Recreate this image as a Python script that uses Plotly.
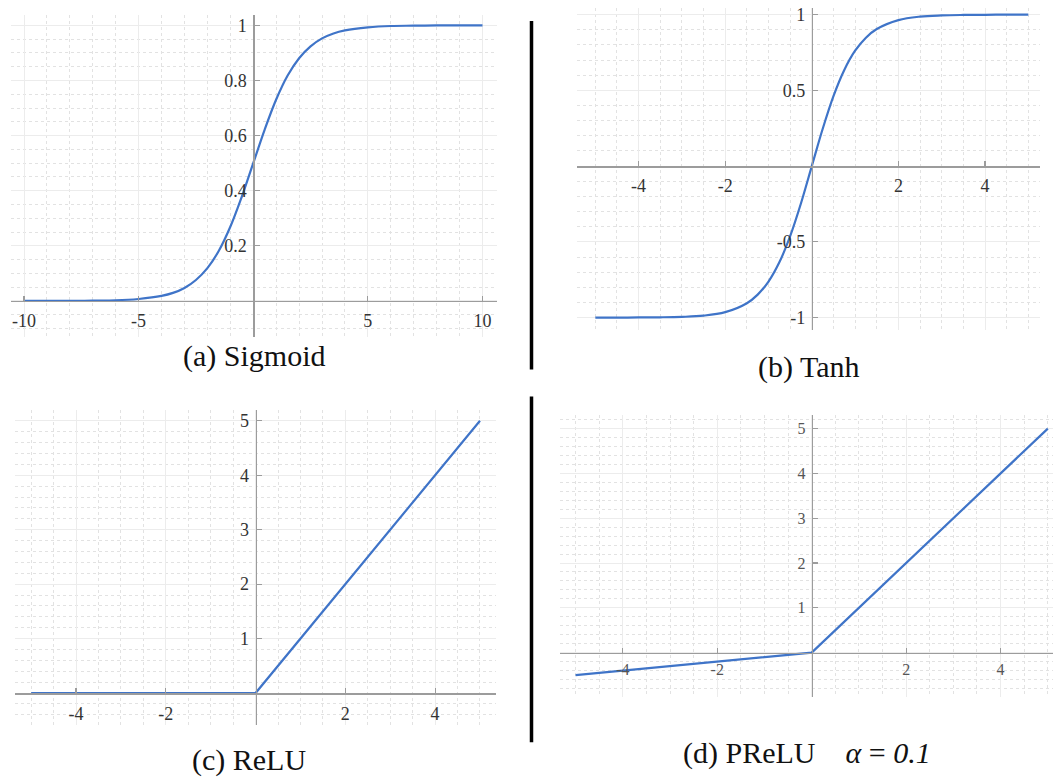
import plotly.graph_objects as go

# ---------------- data ----------------
sig_x = [-10, -9, -8, -7, -6, -5, -4, -3.5, -3, -2.5, -2, -1.5, -1, -0.5, 0,
         0.5, 1, 1.5, 2, 2.5, 3, 3.5, 4, 5, 6, 7, 8, 9, 10]
sig_y = [0.000, 0.000, 0.000, 0.001, 0.002, 0.007, 0.018, 0.029, 0.047, 0.076, 0.119, 0.182, 0.269, 0.378, 0.500,
         0.622, 0.731, 0.818, 0.881, 0.924, 0.953, 0.971, 0.982, 0.993, 0.998, 0.999, 1.000, 1.000, 1.000]

tanh_x = [-5, -4.5, -4, -3.5, -3, -2.5, -2, -1.5, -1.25, -1, -0.75, -0.5, -0.25, 0,
          0.25, 0.5, 0.75, 1, 1.25, 1.5, 2, 2.5, 3, 3.5, 4, 4.5, 5]
tanh_y = [-1.000, -1.000, -0.999, -0.998, -0.995, -0.987, -0.964, -0.905, -0.848, -0.762, -0.635, -0.462, -0.245, 0.000,
          0.245, 0.462, 0.635, 0.762, 0.848, 0.905, 0.964, 0.987, 0.995, 0.998, 0.999, 1.000, 1.000]

relu_x = [-5, 0, 5]
relu_y = [0, 0, 5]

prelu_x = [-5, 0, 5]
prelu_y = [-0.5, 0, 5]

captions = ["(a) Sigmoid", "(b) Tanh", "(c) ReLU",
            "(d) PReLU\u00a0\u00a0\u00a0\u00a0<i>\u03b1</i> = <i>0.1</i>"]

a_xticks = [-10, -5, 5, 10]
a_xlabels = ["-10", "-5", "5", "10"]
a_yticks = [0.2, 0.4, 0.6, 0.8, 1]
a_ylabels = ["0.2", "0.4", "0.6", "0.8", "1"]

b_xticks = [-4, -2, 2, 4]
b_xlabels = ["-4", "-2", "2", "4"]
b_yticks = [-1, -0.5, 0.5, 1]
b_ylabels = ["-1", "-0.5", "0.5", "1"]

c_xticks = [-4, -2, 2, 4]
c_xlabels = ["-4", "-2", "2", "4"]
c_yticks = [1, 2, 3, 4, 5]
c_ylabels = ["1", "2", "3", "4", "5"]

d_xticks = [-4, -2, 2, 4]
d_xlabels = ["-4", "-2", "2", "4"]
d_yticks = [1, 2, 3, 4, 5]
d_ylabels = ["1", "2", "3", "4", "5"]

# ---------------- layout / style ----------------
W, H = 1053, 778
LINE = "#3f74c8"
AXIS = "#9c9c9c"
GRID = "#ececec"
MINOR = "#e2e2e2"
SERIF = "Liberation Serif, Times New Roman, serif"

panels = [
    dict(x=sig_x, y=sig_y, shape="spline", box=(10.7, 496.7, 12.3, 335.0),
         xr=[-10.58, 10.62], yr=[-0.130, 1.037], xd=5, xm=1, yd=0.2, ym=0.05,
         xt=(a_xticks, a_xlabels), yt=(a_yticks, a_ylabels), fs=18, fc="#333", xso=3, yso=3),
    dict(x=tanh_x, y=tanh_y, shape="spline", box=(576.7, 1040.0, 5.0, 328.0),
         xr=[-5.43, 5.27], yr=[-1.08, 1.044], xd=2, xm=0.5, yd=0.5, ym=0.1,
         xt=(b_xticks, b_xlabels), yt=(b_yticks, b_ylabels), fs=18, fc="#333", xso=3, yso=3),
    dict(x=relu_x, y=relu_y, shape="linear", box=(15.0, 495.7, 409.0, 725.0),
         xr=[-5.36, 5.35], yr=[-0.59, 5.19], xd=2, xm=0.5, yd=1, ym=0.2,
         xt=(c_xticks, c_xlabels), yt=(c_yticks, c_ylabels), fs=18, fc="#333", xso=4, yso=3),
    dict(x=prelu_x, y=prelu_y, shape="linear", box=(560.0, 1053.0, 413.3, 696.7),
         xr=[-5.33, 5.11], yr=[-0.99, 5.31], xd=2, xm=0.5, yd=1, ym=0.2,
         xt=(d_xticks, d_xlabels), yt=(d_yticks, d_ylabels), fs=16, fc="#555", xso=2, yso=3),
]
# caption centre x and (anchor, y) in pixels
caption_pos = [(254, "middle", 354), (808, "middle", 365), (249, "bottom", 778), (807, "middle", 753)]
separators = [(531.5, 18, 368), (531.5, 395, 742)]

fig = go.Figure()
layout = dict(width=W, height=H, margin=dict(l=0, r=0, t=0, b=0),
              paper_bgcolor="white", plot_bgcolor="white", showlegend=False,
              annotations=[], shapes=[])

for i, p in enumerate(panels, start=1):
    l, r, t, b = p["box"]
    xdom = [l / W, r / W]
    ydom = [1 - b / H, 1 - t / H]
    x0, x1 = p["xr"]
    y0, y1 = p["yr"]
    # paper position of the zero lines
    pos_y0 = ydom[0] + (0 - y0) / (y1 - y0) * (ydom[1] - ydom[0])
    pos_x0 = xdom[0] + (0 - x0) / (x1 - x0) * (xdom[1] - xdom[0])

    xa, ya = f"xaxis{i}", f"yaxis{i}"
    xf, yf = f"xaxis{i + 4}", f"yaxis{i + 4}"
    xref, yref = f"x{i}", f"y{i}"
    xfref, yfref = f"x{i + 4}", f"y{i + 4}"

    layout[xa] = dict(domain=xdom, range=p["xr"], anchor=yref, showgrid=True, gridcolor=GRID,
                      gridwidth=1, tick0=0, dtick=p["xd"], showticklabels=False, ticks="",
                      zeroline=False, showline=False,
                      minor=dict(tick0=0, dtick=p["xm"], showgrid=True, gridcolor=MINOR,
                                 griddash="dot", gridwidth=1))
    layout[ya] = dict(domain=ydom, range=p["yr"], anchor=xref, showgrid=True, gridcolor=GRID,
                      gridwidth=1, tick0=0, dtick=p["yd"], showticklabels=False, ticks="",
                      zeroline=False, showline=False,
                      minor=dict(tick0=0, dtick=p["ym"], showgrid=True, gridcolor=MINOR,
                                 griddash="dot", gridwidth=1))
    # free axes drawn through the origin
    layout[xf] = dict(overlaying=xref, anchor="free", position=pos_y0, side="bottom",
                      range=p["xr"], showgrid=False, zeroline=False, showline=True,
                      linecolor=AXIS, linewidth=1.6, ticks="inside", ticklen=5,
                      tickcolor=AXIS, tickwidth=1.2, tickvals=p["xt"][0], ticktext=p["xt"][1],
                      tickfont=dict(family=SERIF, size=p["fs"], color=p["fc"]),
                      ticklabelstandoff=p["xso"])
    layout[yf] = dict(overlaying=yref, anchor="free", position=pos_x0, side="left",
                      range=p["yr"], showgrid=False, zeroline=False, showline=True,
                      linecolor=AXIS, linewidth=1.6, ticks="inside", ticklen=5,
                      tickcolor=AXIS, tickwidth=1.2, tickvals=p["yt"][0], ticktext=p["yt"][1],
                      tickfont=dict(family=SERIF, size=p["fs"], color=p["fc"]),
                      ticklabelstandoff=p["yso"])

    fig.add_trace(go.Scatter(x=[], y=[], xaxis=xfref, yaxis=yref, hoverinfo="skip"))
    fig.add_trace(go.Scatter(x=[], y=[], xaxis=xref, yaxis=yfref, hoverinfo="skip"))
    fig.add_trace(go.Scatter(x=p["x"], y=p["y"], mode="lines", xaxis=xref, yaxis=yref,
                             line=dict(color=LINE, width=2.2, shape=p["shape"]),
                             cliponaxis=False))

for text, (cx, anchor, cy) in zip(captions, caption_pos):
    layout["annotations"].append(dict(text=text, x=cx / W, y=1 - cy / H, xref="paper", yref="paper",
                                      xanchor="center", yanchor=anchor, showarrow=False,
                                      borderpad=0,
                                      font=dict(family=SERIF, size=30, color="#111")))

for sx, sy0, sy1 in separators:
    layout["shapes"].append(dict(type="line", xref="paper", yref="paper",
                                 x0=sx / W, x1=sx / W, y0=1 - sy0 / H, y1=1 - sy1 / H,
                                 line=dict(color="black", width=3.5)))

fig.update_layout(**layout)
fig.write_html("out.html", config={"displayModeBar": False, "staticPlot": True},
               post_script="document.body.style.margin='0';document.body.style.overflow='hidden';")
